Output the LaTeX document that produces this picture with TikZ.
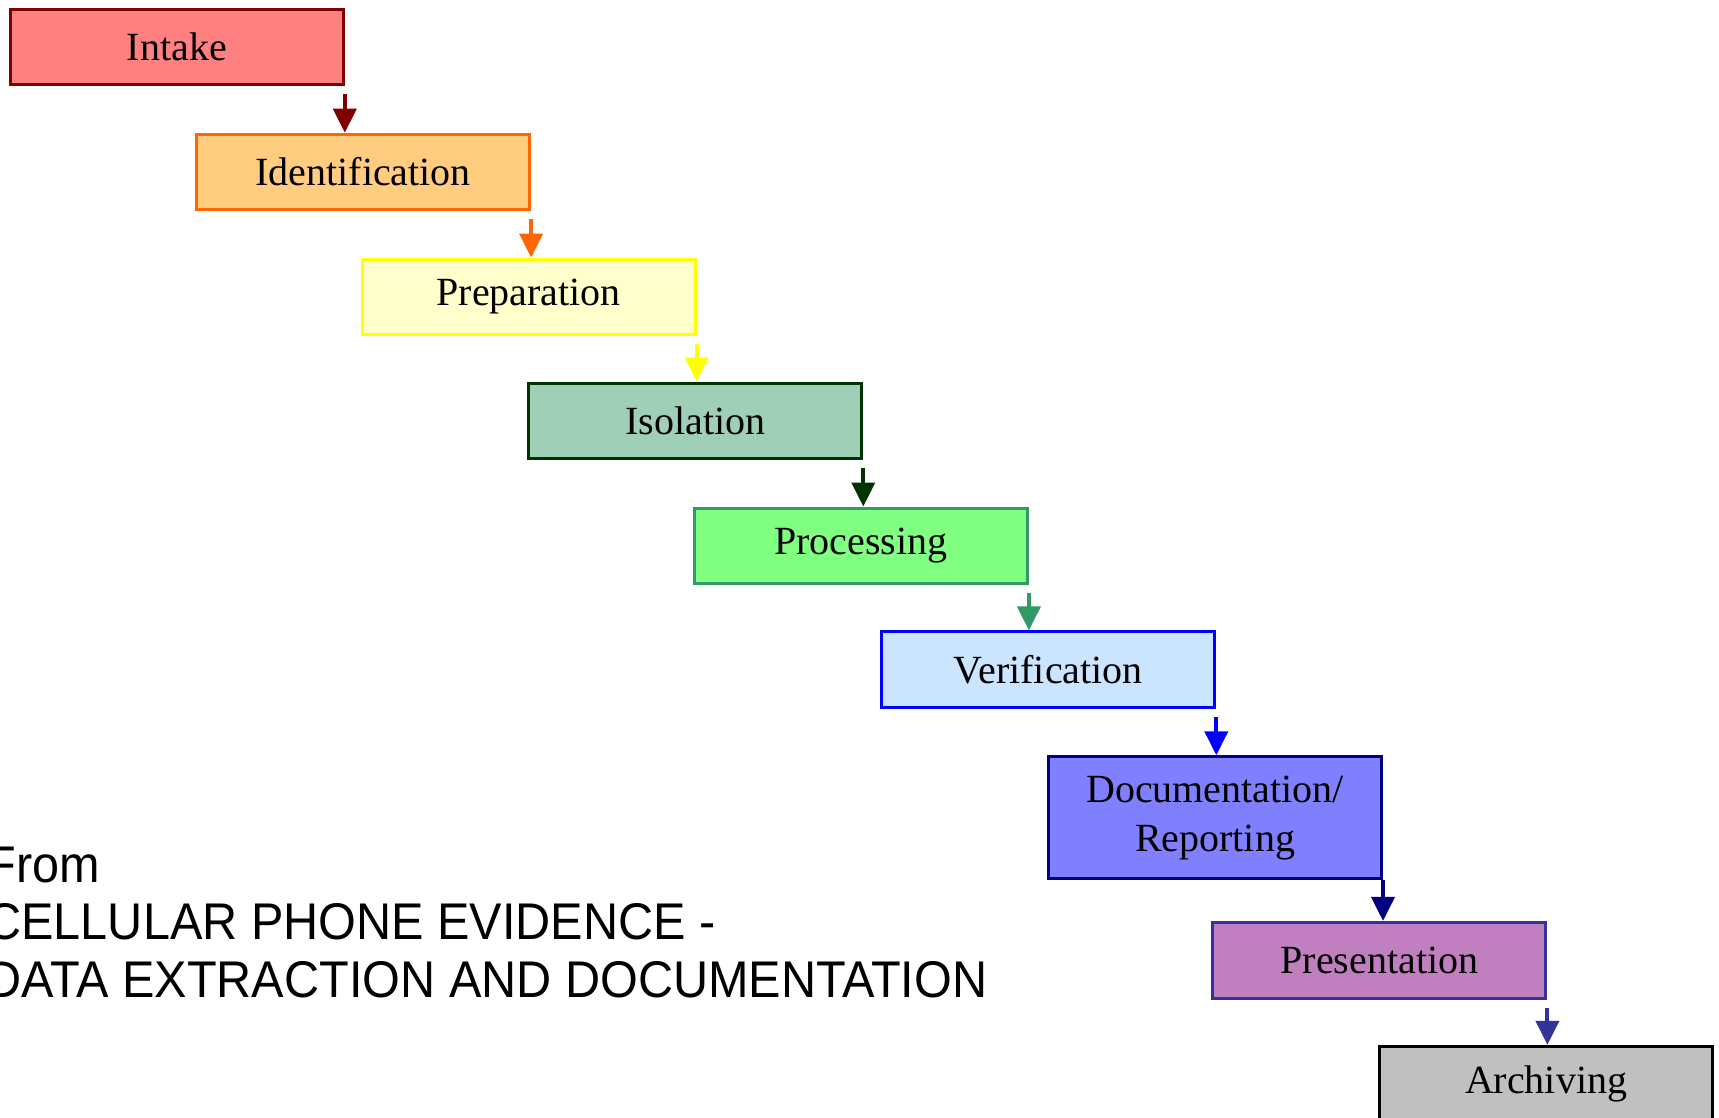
\documentclass[tikz,border=0pt]{standalone}
\usepackage{fontspec}
\setmainfont{Liberation Serif}
\newfontfamily\arialfont{Liberation Sans}
\usetikzlibrary{arrows.meta}
\definecolor{cIntakeF}{HTML}{FF8080}\definecolor{cIntakeD}{HTML}{800000}
\definecolor{cIdentF}{HTML}{FFCC80}\definecolor{cIdentD}{HTML}{FF6600}
\definecolor{cPrepF}{HTML}{FFFFCC}\definecolor{cPrepD}{HTML}{FFFF00}
\definecolor{cIsoF}{HTML}{9FCFB7}\definecolor{cIsoD}{HTML}{003300}
\definecolor{cProcF}{HTML}{80FF80}\definecolor{cProcD}{HTML}{339966}
\definecolor{cVerF}{HTML}{CCE5FF}\definecolor{cVerD}{HTML}{0000FF}
\definecolor{cDocF}{HTML}{8080FF}\definecolor{cDocD}{HTML}{000080}
\definecolor{cPresF}{HTML}{C080C0}\definecolor{cPresD}{HTML}{333399}
\definecolor{cArchF}{HTML}{C0C0C0}\definecolor{cArchD}{HTML}{000000}
\tikzset{
  stagebox/.style={draw, line width=1.5pt, minimum width=166.5pt, minimum height=37.8pt,
    inner sep=0pt, anchor=north west, align=center, text=black,
    font=\fontsize{20}{24.5}\selectfont},
  flowarr/.style={line width=2pt, -{Triangle[width=11.5pt,length=12pt]}},
  srctext/.style={anchor=base west, inner sep=0pt, text=black,
    font=\arialfont\fontsize{25.8}{30}\selectfont}
}
\begin{document}
\begin{tikzpicture}[x=0.5pt,y=-0.5pt]
\useasboundingbox (0,0) rectangle (1719,1118);
\node[stagebox, fill=cIntakeF, draw=cIntakeD] (intake) at (8.8,7.7) {Intake};
\node[stagebox, fill=cIdentF, draw=cIdentD] (ident) at (195.1,132.7) {Identification};
\node[stagebox, fill=cPrepF, draw=cPrepD] (prep) at (360.7,257.6) {Preparation};
\node[stagebox, fill=cIsoF, draw=cIsoD] (iso) at (527.3,381.5) {Isolation};
\node[stagebox, fill=cProcF, draw=cProcD] (proc) at (692.9,506.5) {Processing};
\node[stagebox, fill=cVerF, draw=cVerD] (ver) at (880.3,630.4) {Verification};
\node[stagebox, fill=cDocF, draw=cDocD, minimum height=60.8pt] (doc) at (1047,755.3) {Documentation/\\Reporting};
\node[stagebox, fill=cPresF, draw=cPresD] (pres) at (1211.4,920.9) {Presentation};
\node[stagebox, fill=cArchF, draw=cArchD] (arch) at (1378.1,1044.8) {Archiving};

\draw[flowarr, cIntakeD] ([yshift=-4pt]intake.south east) -- (intake.south east |- ident.north);
\draw[flowarr, cIdentD] ([yshift=-4pt]ident.south east) -- (ident.south east |- prep.north);
\draw[flowarr, cPrepD] ([yshift=-4pt]prep.south east) -- (prep.south east |- iso.north);
\draw[flowarr, cIsoD] ([yshift=-4pt]iso.south east) -- (iso.south east |- proc.north);
\draw[flowarr, cProcD] ([yshift=-4pt]proc.south east) -- (proc.south east |- ver.north);
\draw[flowarr, cVerD] ([yshift=-4pt]ver.south east) -- (ver.south east |- doc.north);
\draw[flowarr, cDocD] (doc.south east) -- (doc.south east |- pres.north);
\draw[flowarr, cPresD] ([yshift=-4pt]pres.south east) -- (pres.south east |- arch.north);

\node[srctext] (src1) at (-14,882) {\scalebox{0.942}[1]{From}};
\node[srctext] (src2) at (-14,939.5) {\scalebox{0.942}[1]{CELLULAR PHONE EVIDENCE -}};
\node[srctext] (src3) at (-14,997) {\scalebox{0.942}[1]{DATA EXTRACTION AND DOCUMENTATION}};
\end{tikzpicture}
\end{document}
